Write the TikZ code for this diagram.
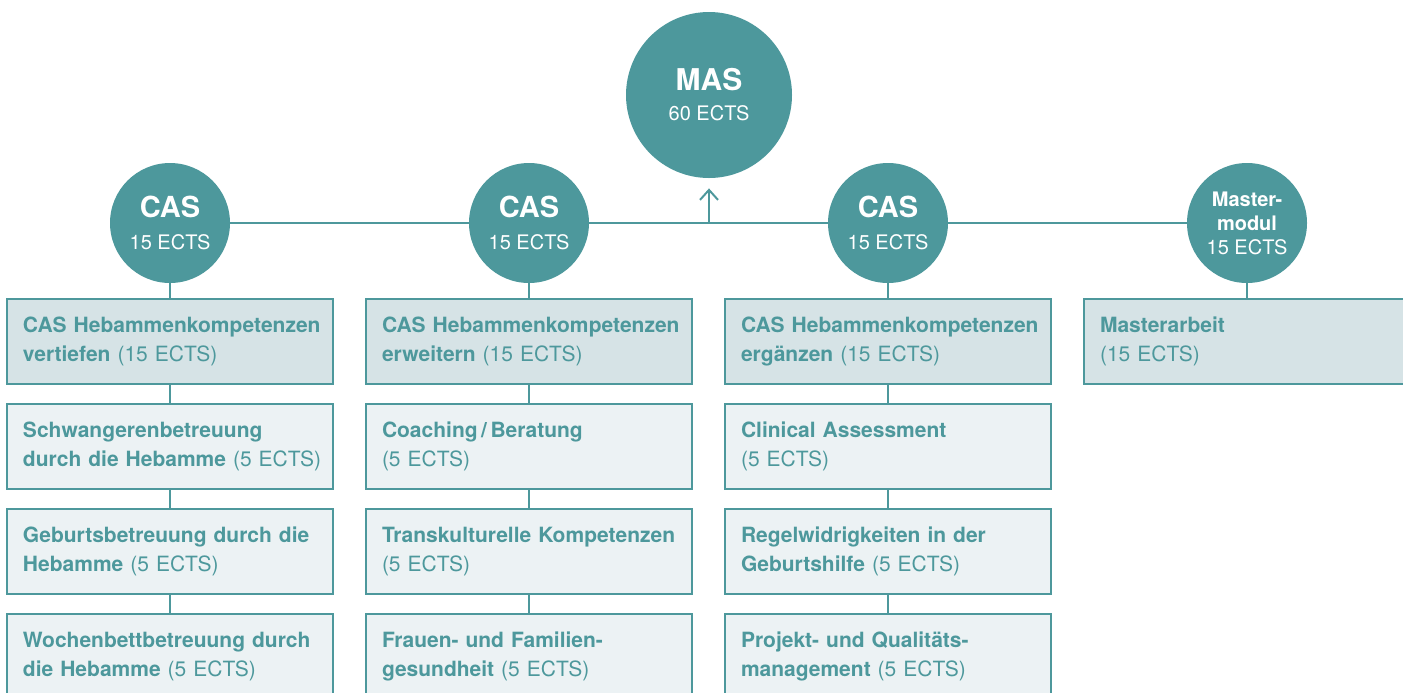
\documentclass[tikz,border=0pt]{standalone}
\usepackage{fontspec}
\setmainfont{TeX Gyre Heros}
\usetikzlibrary{arrows.meta}

\definecolor{petrol}{HTML}{4D989C}
\definecolor{boxtop}{HTML}{D6E3E6}
\definecolor{boxlow}{HTML}{ECF2F4}

\newcommand{\modlines}[2]{\mbox{#1}\\\mbox{#2}}

\tikzset{
    ring/.style={circle, fill=petrol, text=white, inner sep=0pt, minimum size=60pt,
        align=center, font=\fontsize{10}{16}\selectfont},
    modbox/.style={rectangle, draw=petrol, line width=1pt, fill=boxlow, text=petrol,
        text width=147pt, inner xsep=8pt, inner ysep=4pt, minimum height=42.5pt,
        align=left, font=\fontsize{10.5}{14.5}\selectfont},
    headbox/.style={modbox, fill=boxtop},
    link/.style={draw=petrol, line width=1pt}
}

\begin{document}
\begin{tikzpicture}[x=0.5pt, y=-0.5pt]
    \clip (0,0) rectangle (1403,692);
    % circles
    \node (mas) at (709,95) [ring, minimum size=83pt, font=\fontsize{10}{15}\selectfont] {{\fontsize{15}{15}\selectfont\bfseries MAS}\\60 ECTS};
    \node (cas1) at (170,223) [ring] {{\fontsize{14.5}{16}\selectfont\bfseries CAS}\\15 ECTS};
    \node (cas2) at (529,223) [ring] {{\fontsize{14.5}{16}\selectfont\bfseries CAS}\\15 ECTS};
    \node (cas3) at (888,223) [ring] {{\fontsize{14.5}{16}\selectfont\bfseries CAS}\\15 ECTS};
    \node (mm) at (1247,223) [ring, font=\fontsize{10}{12}\selectfont] {\textbf{Master-}\\\textbf{modul}\\15 ECTS};
    \coordinate (jn) at (709,223);
    % first column
    \node (a1) at (170,341.5) [headbox] {\modlines{\textbf{CAS Hebammenkompetenzen}}{\textbf{vertiefen} (15 ECTS)}};
    \node (a2) at (170,446.5) [modbox] {\modlines{\textbf{Schwangerenbetreuung}}{\textbf{durch die Hebamme} (5 ECTS)}};
    \node (a3) at (170,551.5) [modbox] {\modlines{\textbf{Geburtsbetreuung durch die}}{\textbf{Hebamme} (5 ECTS)}};
    \node (a4) at (170,656.5) [modbox] {\modlines{\textbf{Wochenbettbetreuung durch}}{\textbf{die Hebamme} (5 ECTS)}};
    % second column
    \node (b1) at (529,341.5) [headbox] {\modlines{\textbf{CAS Hebammenkompetenzen}}{\textbf{erweitern} (15 ECTS)}};
    \node (b2) at (529,446.5) [modbox] {\modlines{\textbf{Coaching\,/\,Beratung}}{(5 ECTS)}};
    \node (b3) at (529,551.5) [modbox] {\modlines{\textbf{Transkulturelle Kompetenzen}}{(5 ECTS)}};
    \node (b4) at (529,656.5) [modbox] {\modlines{\textbf{Frauen- und Familien-}}{\textbf{gesundheit} (5 ECTS)}};
    % third column
    \node (c1) at (888,341.5) [headbox] {\modlines{\textbf{CAS Hebammenkompetenzen}}{\textbf{ergänzen} (15 ECTS)}};
    \node (c2) at (888,446.5) [modbox] {\modlines{\textbf{Clinical Assessment}}{(5 ECTS)}};
    \node (c3) at (888,551.5) [modbox] {\modlines{\textbf{Regelwidrigkeiten in der}}{\textbf{Geburtshilfe} (5 ECTS)}};
    \node (c4) at (888,656.5) [modbox] {\modlines{\textbf{Projekt- und Qualitäts-}}{\textbf{management} (5 ECTS)}};
    % master module
    \node (d1) at (1247,341.5) [headbox] {\modlines{\textbf{Masterarbeit}}{(15 ECTS)}};
    % connectors
    \draw [link] (cas1) -- (cas2) -- (cas3) -- (mm);
    \draw [link, -{Straight Barb[length=5pt, width=9pt]}, shorten >=5pt] (jn) -- (mas);
    \draw [link] (cas1) -- (a1) -- (a2) -- (a3) -- (a4);
    \draw [link] (cas2) -- (b1) -- (b2) -- (b3) -- (b4);
    \draw [link] (cas3) -- (c1) -- (c2) -- (c3) -- (c4);
    \draw [link] (mm) -- (d1);
\end{tikzpicture}
\end{document}
